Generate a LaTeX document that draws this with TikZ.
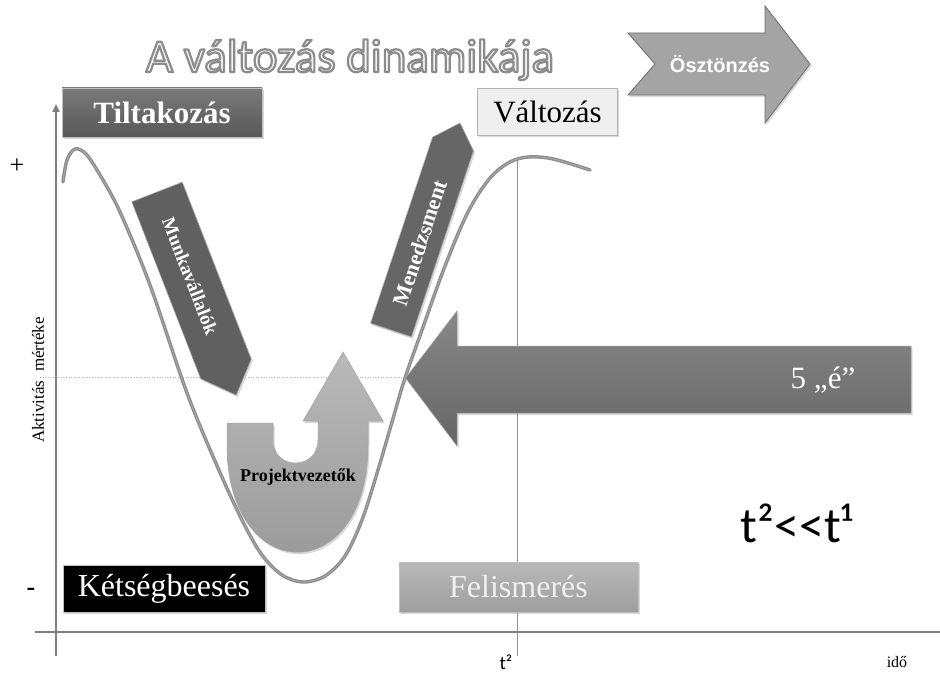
\documentclass[tikz,border=0pt]{standalone}
\usepackage{fontspec}
\setmainfont{Liberation Serif}
\newfontfamily\calib{Carlito}
\newfontfamily\arialf{Liberation Sans}
\usetikzlibrary{arrows.meta,shadows}

\definecolor{axisgray}{HTML}{7F7F7F}
\definecolor{curvegray}{HTML}{8A8A8A}
\definecolor{curvecore}{HTML}{A9A9A9}
\definecolor{darkbox}{HTML}{666666}
\definecolor{darkboxtop}{HTML}{7A7A7A}
\definecolor{darkboxbot}{HTML}{585858}
\definecolor{lightbox}{HTML}{EFEFEF}
\definecolor{midtop}{HTML}{B9B9B9}
\definecolor{midbot}{HTML}{9E9E9E}
\definecolor{pushfill}{HTML}{A4A4A4}
\definecolor{pushedge}{HTML}{6E6E6E}
\definecolor{titlefill}{HTML}{F3F3F3}

\newcommand{\fsz}[1]{\fontsize{#1}{#1}\selectfont}
% letters filled with the current colour and stroked in grey
\newcommand{\outlined}[1]{%
  \special{pdf:literal direct 0.55 0.55 0.55 RG 2.2 w 1 j 2 Tr}#1%
  \special{pdf:literal direct 0 Tr}}

\tikzset{
  axisline/.style={draw=axisgray, line width=2pt},
  softshadow/.style={drop shadow={opacity=0.3, shadow xshift=1.5pt, shadow yshift=-2pt}},
  stagebox/.style={softshadow, inner sep=0pt, draw=black!25, line width=0.4pt},
  darkstage/.style={stagebox, top color=darkboxtop, bottom color=darkboxbot},
  bigarrow/.style={softshadow, draw=black!35, line width=0.5pt},
  arrowtext/.style={text=white, font=\bfseries},
}

\begin{document}
\begin{tikzpicture}[x=1pt,y=-1pt]
\useasboundingbox[fill=white] (0,0) rectangle (940,674);

% guide lines
\draw[gray!55, dotted, line width=0.6pt] (40,377) -- (405,377);
\draw[gray!85, line width=0.8pt] (517,160) -- (517,656);

% axes
\draw[axisline] (35,632) -- (940,632);
\draw[axisline, -{Triangle[length=8pt, width=7pt]}] (56,656) -- (56,104);

% activity curve
\def\curvepts{(63,182) (67,160) (75,149) (86,154) (100,175) (120,212) (150,285)
  (187,393) (218,468) (243,522) (262,555) (282,575) (303,582) (325,576)
  (345,556) (362,520) (378,470) (392,422) (405,378) (422,330) (445,266)
  (468,212) (490,178) (510,162) (528,157) (548,158) (568,163) (590,170)}
\draw[curvegray, line width=3.4pt, line cap=round] plot[smooth, tension=0.55] coordinates {\curvepts};
\draw[curvecore, line width=0.9pt, line cap=round] plot[smooth, tension=0.55] coordinates {\curvepts};

% title with outlined letters
\node[anchor=base, text=titlefill, font=\calib\fsz{47}] (title)
  at (350,72) {\outlined{A változás dinamikája}};

% incentive arrow
\draw[bigarrow, fill=pushfill, draw=pushedge, line width=0.8pt]
  (628,33) -- (765,33) -- (765,6) -- (810,64) -- (765,123) -- (765,95)
  -- (628,95) -- (655,64) -- cycle;
\node[text=white, font=\arialf\bfseries\fsz{20}] (push) at (720,64) {Ösztönzés};

% stage boxes
\node[darkstage, minimum width=200pt, minimum height=49pt] (resist) at (162,112.5) {};
\node[text=white, font=\bfseries\fsz{31}] (resisttxt) at (162,112.5) {Tiltakozás};

\node[stagebox, fill=lightbox, draw=black!30, minimum width=140pt, minimum height=47pt]
  (change) at (547.5,112) {};
\node[text=black, font=\fsz{31}] (changetxt) at (547.5,112) {Változás};

\node[stagebox, fill=black, minimum width=202pt, minimum height=47pt]
  (despair) at (164,588.5) {};
\node[text=white, font=\fsz{32}] (despairtxt) at (164,588.5) {Kétségbeesés};

\node[stagebox, top color=midtop, bottom color=midbot, minimum width=239pt, minimum height=50pt]
  (recog) at (518.5,587) {};
\node[text=white!94!black, font=\fsz{32}] (recogtxt) at (518.5,587) {Felismerés};

% employees arrow (pointing down-right)
\draw[bigarrow, fill=darkboxbot!95!white]
  (131.8,201.8) -- (182.2,182.2) -- (251.2,359.2) -- (236.2,395.1) -- (200.8,378.8) -- cycle;
\node[arrowtext, font=\bfseries\fsz{19}, rotate=-68.7] (workers) at (190,276) {Munkavállalók};

% management arrow (pointing up-right)
\draw[bigarrow, fill=darkbox]
  (370.6,323.2) -- (432.6,137.2) -- (460,123) -- (473.4,150.8) -- (411.4,336.8) -- cycle;
\node[arrowtext, font=\bfseries\fsz{22}, rotate=71.6] (mgmt) at (420,243) {Menedzsment};

% project managers U-turn arrow
\draw[bigarrow, top color=midtop, bottom color=midbot!95!black]
  (227,423) -- (273,423) -- (273,440)
  .. controls (273,470.7) and (318,470.7) .. (318,440)
  -- (318,421) -- (303,421) -- (343,352) -- (383,421) -- (368,421) -- (368,445)
  .. controls (368,588) and (227,588) .. (227,445) -- cycle;
\node[text=black, font=\bfseries\fsz{18}] (pm) at (298,477) {Projektvezetők};

% five "é" arrow (pointing left)
\draw[bigarrow, top color=darkboxtop!90!white, bottom color=darkbox]
  (405.6,378) -- (457,311) -- (457,346) -- (911,346) -- (911,413) -- (457,413)
  -- (457,446) -- cycle;
\node[text=white, font=\fsz{31}] (five) at (823,380) {5 „é”};

% axis labels
\node[font=\fsz{26}] (plus) at (17,166) {+};
\node[font=\bfseries\fsz{26}] (minus) at (31,592) {-};
\node[rotate=90, font=\fsz{17}] (ylabel) at (38,380) {Aktivitás\ \ mértéke};
\node[font=\calib\fsz{19}] (tick) at (506,662) {t²};
\node[font=\fsz{16}] (xlabel) at (897,662) {idő};
\node[font=\calib\fsz{50}] (ratio) at (797,523) {t²<<t¹};

\end{tikzpicture}
\end{document}
